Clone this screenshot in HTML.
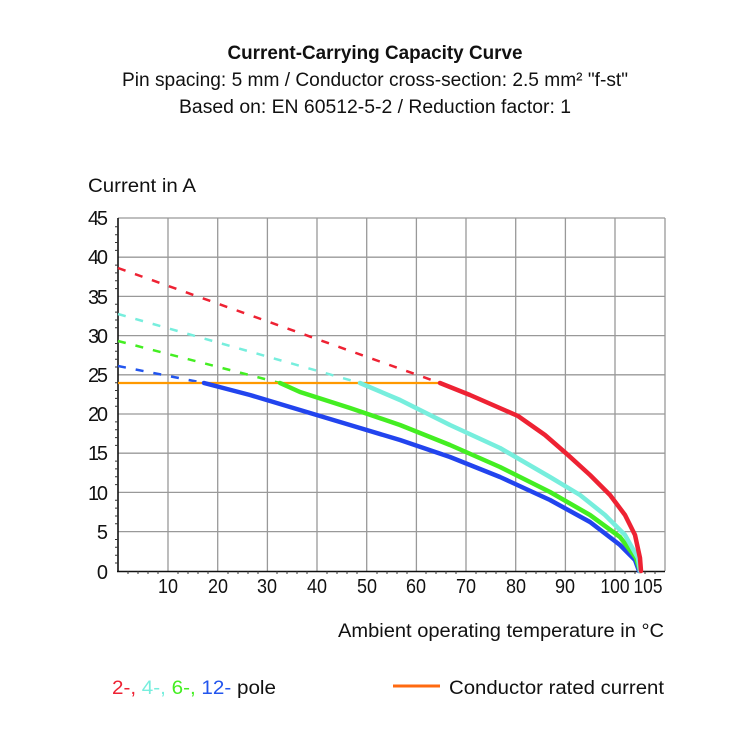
<!DOCTYPE html>
<html><head><meta charset="utf-8"><style>
html,body{margin:0;padding:0;background:#fff;}
svg{display:block;font-family:"Liberation Sans Narrow","Liberation Sans",sans-serif;}
</style></head><body>
<svg width="750" height="750" viewBox="0 0 750 750" xmlns="http://www.w3.org/2000/svg">
<rect width="750" height="750" fill="#fff"/>
<g fill="#111" text-anchor="middle">
<text x="375" y="59" font-size="19" font-weight="bold" textLength="295" lengthAdjust="spacingAndGlyphs">Current-Carrying Capacity Curve</text>
<text x="375" y="86" font-size="19" textLength="506" lengthAdjust="spacingAndGlyphs">Pin spacing: 5 mm / Conductor cross-section: 2.5 mm² "f-st"</text>
<text x="375" y="113" font-size="19" textLength="392" lengthAdjust="spacingAndGlyphs">Based on: EN 60512-5-2 / Reduction factor: 1</text>
</g>
<text x="88" y="192" font-size="19" fill="#111" textLength="108" lengthAdjust="spacingAndGlyphs">Current in A</text>
<g stroke="#999" stroke-width="1.3">
<line x1="168" y1="218" x2="168" y2="571"/><line x1="217.7" y1="218" x2="217.7" y2="571"/>
<line x1="267.4" y1="218" x2="267.4" y2="571"/><line x1="317" y1="218" x2="317" y2="571"/>
<line x1="366.7" y1="218" x2="366.7" y2="571"/><line x1="416.4" y1="218" x2="416.4" y2="571"/>
<line x1="466" y1="218" x2="466" y2="571"/><line x1="515.7" y1="218" x2="515.7" y2="571"/>
<line x1="565.4" y1="218" x2="565.4" y2="571"/><line x1="615" y1="218" x2="615" y2="571"/>
<line x1="665" y1="218" x2="665" y2="571"/>
<line x1="118" y1="218" x2="665" y2="218"/><line x1="118" y1="257.2" x2="665" y2="257.2"/>
<line x1="118" y1="296.4" x2="665" y2="296.4"/><line x1="118" y1="335.6" x2="665" y2="335.6"/>
<line x1="118" y1="374.8" x2="665" y2="374.8"/><line x1="118" y1="414" x2="665" y2="414"/>
<line x1="118" y1="453.2" x2="665" y2="453.2"/><line x1="118" y1="492.4" x2="665" y2="492.4"/>
<line x1="118" y1="531.6" x2="665" y2="531.6"/>
</g>
<g stroke="#111" stroke-width="1.6">
<line x1="118" y1="218" x2="118" y2="572"/>
<line x1="117" y1="571.5" x2="665" y2="571.5"/>
</g>
<g stroke="#333" stroke-width="1">
<path d="M115 226.8h3M115 234.7h3M115 242.5h3M115 250.4h3M115 265.1h3M115 272.9h3M115 280.8h3M115 288.6h3M115 304.3h3M115 312.1h3M115 320h3M115 327.8h3M115 343.5h3M115 351.3h3M115 359.2h3M115 367h3M115 382.7h3M115 390.5h3M115 398.4h3M115 406.2h3M115 421.9h3M115 429.7h3M115 437.6h3M115 445.4h3M115 461.1h3M115 468.9h3M115 476.8h3M115 484.6h3M115 500.3h3M115 508.1h3M115 516h3M115 523.8h3M115 539.5h3M115 547.3h3M115 555.2h3M115 563h3"/>
<path d="M128 571v3M138 571v3M148 571v3M158 571v3M178 571v3M188 571v3M198 571v3M208 571v3M228 571v3M238 571v3M248 571v3M258 571v3M277 571v3M287 571v3M297 571v3M307 571v3M327 571v3M337 571v3M347 571v3M357 571v3M377 571v3M387 571v3M397 571v3M407 571v3M426 571v3M436 571v3M446 571v3M456 571v3M476 571v3M486 571v3M496 571v3M506 571v3M526 571v3M536 571v3M546 571v3M556 571v3M575 571v3M585 571v3M595 571v3M605 571v3M625 571v3M635 571v3M645 571v3M655 571v3"/>
</g>
<g font-size="20" fill="#111" text-anchor="end" lengthAdjust="spacingAndGlyphs">
<text x="108" y="225" textLength="20">45</text><text x="108" y="264" textLength="20">40</text><text x="108" y="304" textLength="20">35</text>
<text x="108" y="343" textLength="20">30</text><text x="108" y="382" textLength="20">25</text><text x="108" y="421" textLength="20">20</text>
<text x="108" y="460" textLength="20">15</text><text x="108" y="500" textLength="20">10</text><text x="108" y="539" textLength="10">5</text>
<text x="108" y="579" textLength="10">0</text>
</g>
<g font-size="20" fill="#111" text-anchor="middle">
<text x="168" y="593" textLength="20" lengthAdjust="spacingAndGlyphs">10</text><text x="218" y="593" textLength="20" lengthAdjust="spacingAndGlyphs">20</text><text x="267" y="593" textLength="20" lengthAdjust="spacingAndGlyphs">30</text>
<text x="317" y="593" textLength="20" lengthAdjust="spacingAndGlyphs">40</text><text x="367" y="593" textLength="20" lengthAdjust="spacingAndGlyphs">50</text><text x="416" y="593" textLength="20" lengthAdjust="spacingAndGlyphs">60</text>
<text x="466" y="593" textLength="20" lengthAdjust="spacingAndGlyphs">70</text><text x="516" y="593" textLength="20" lengthAdjust="spacingAndGlyphs">80</text><text x="565" y="593" textLength="20" lengthAdjust="spacingAndGlyphs">90</text>
<text x="615" y="593" textLength="29" lengthAdjust="spacingAndGlyphs">100</text><text x="648" y="593" textLength="29" lengthAdjust="spacingAndGlyphs">105</text>
</g>
<text x="338" y="637" font-size="19" fill="#111" textLength="326" lengthAdjust="spacingAndGlyphs">Ambient operating temperature in °C</text>
<g fill="none" stroke-width="2.5" stroke-dasharray="8,10">
<line x1="118" y1="268" x2="440" y2="383" stroke="#ee2233"/>
<line x1="118" y1="314" x2="360" y2="383" stroke="#77eedd"/>
<line x1="118" y1="341" x2="280" y2="383" stroke="#44ee22"/>
<line x1="118" y1="366" x2="204" y2="383" stroke="#2255ee"/>
</g>
<line x1="118" y1="383" x2="441" y2="383" stroke="#ff9900" stroke-width="2.2"/>
<g fill="none" stroke-width="4.5" stroke-linejoin="round" stroke-linecap="round">
<polyline stroke="#2244ee" points="204,383 250,395 300,410 350,425 400,440 450,457 500,477 550,500 590,522 620,545 635,560 639,571"/>
<polyline stroke="#44ee22" points="280,383 300,392 350,408 400,425 450,445 500,467 550,492 590,515 620,537 636,558 640,571"/>
<polyline stroke="#77eedd" points="360,383 400,400 450,425 500,448 550,477 580,495 605,515 625,535 638,558 640,571"/>
<polyline stroke="#ee2233" points="440,383 470,395 518,416 545,435 568,455 590,475 610,495 625,515 635,535 640,558 641,571"/>
</g>
<text x="112" y="694" font-size="19" textLength="164" lengthAdjust="spacingAndGlyphs"><tspan fill="#ee2233">2-, </tspan><tspan fill="#77eedd">4-, </tspan><tspan fill="#44ee22">6-, </tspan><tspan fill="#2255ee">12-</tspan><tspan fill="#111"> pole</tspan></text>
<line x1="393" y1="686" x2="440" y2="686" stroke="#ff6a10" stroke-width="3"/>
<text x="449" y="694" font-size="19" fill="#111" textLength="215" lengthAdjust="spacingAndGlyphs">Conductor rated current</text>
</svg>
</body></html>
